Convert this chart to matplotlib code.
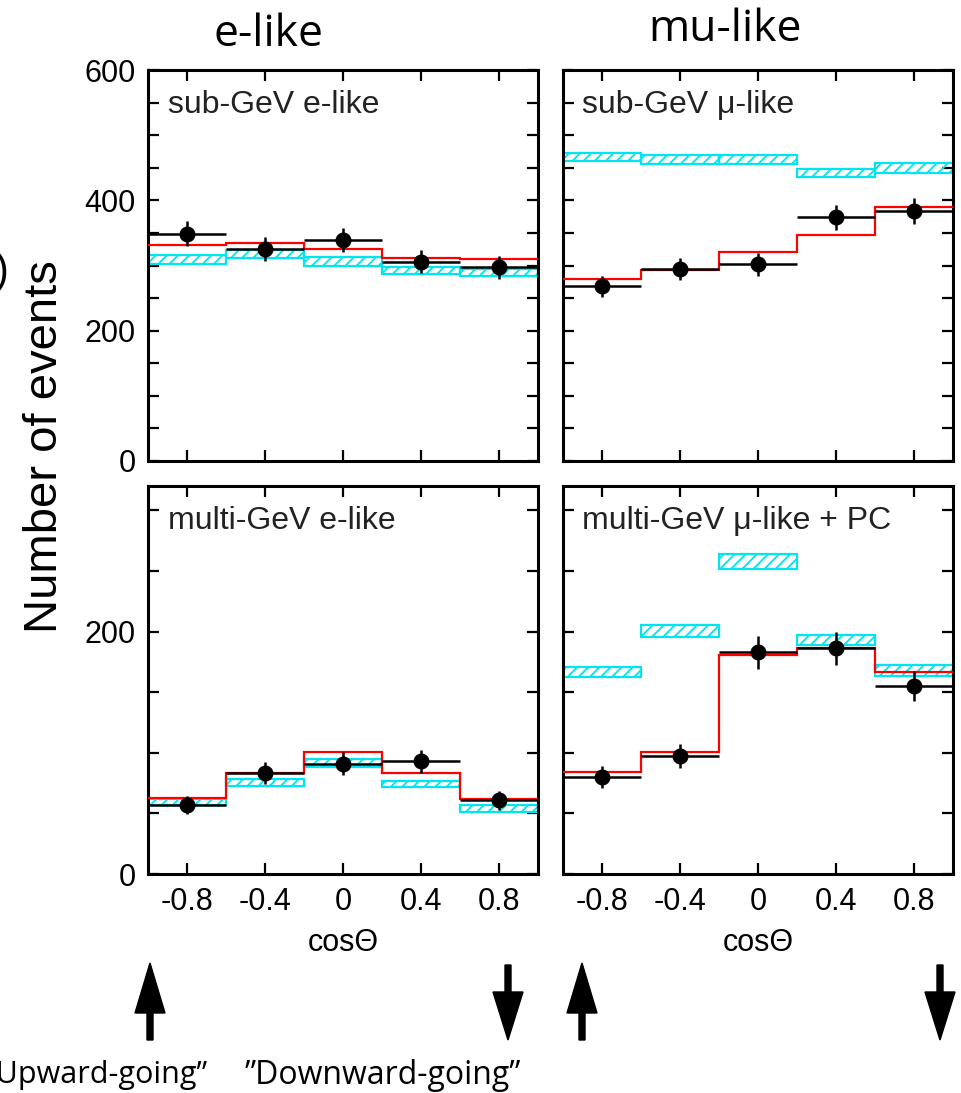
import numpy as np
import matplotlib
matplotlib.use("Agg")
from matplotlib import pyplot as plt

# bin edges / centres in cos(theta)
edges = [-1.0, -0.6, -0.2, 0.2, 0.6, 1.0]
centers = [-0.8, -0.4, 0.0, 0.4, 0.8]

# sub-GeV e-like
data_sub_e = [349, 325, 339, 306, 297]
osc_sub_e = [331, 335, 325, 312, 310]
noosc_sub_e = [309.5, 317.5, 306.8, 292.5, 289.5]
noosc_sub_e_err = [6.5, 6.5, 6.8, 5.5, 5.5]

# sub-GeV mu-like
data_sub_mu = [268, 295, 302, 374, 384]
osc_sub_mu = [279, 293, 320, 347, 390]
noosc_sub_mu = [467, 462.5, 462.5, 442, 450]
noosc_sub_mu_err = [6, 7.5, 7.5, 6, 8]

# multi-GeV e-like
data_multi_e = [57, 83, 91, 93, 61]
osc_multi_e = [63, 83, 101, 83, 62]
noosc_multi_e = [59.5, 75.3, 91.5, 74.3, 54.3]
noosc_multi_e_err = [2.5, 2.7, 3.3, 2.7, 2.8]

# multi-GeV mu-like + PC
data_multi_mu = [80, 97, 183, 186, 155]
osc_multi_mu = [84, 101, 181, 186, 167]
noosc_multi_mu = [166.6, 200.5, 257.7, 193, 167.7]
noosc_multi_mu_err = [4, 5, 6, 4, 4.7]

W, H = 961, 1093
plt.rcParams['font.family'] = ['Liberation Sans', 'DejaVu Sans']
plt.rcParams['hatch.linewidth'] = 1.3
plt.rcParams['hatch.color'] = '#00e5ee'

fig = plt.figure(figsize=(W / 100, H / 100), dpi=100)

def px_axes(left, top, right, bottom):
    return fig.add_axes([left / W, (H - bottom) / H, (right - left) / W, (bottom - top) / H])

def panel(ax, data, osc, noosc, noosc_err, label, ymax, ylabels, xlabels, yl):
    cyan = '#00e5ee'
    widths = np.diff(edges)
    ax.bar(centers, 2 * np.array(noosc_err), width=widths,
           bottom=np.array(noosc) - np.array(noosc_err),
           facecolor='none', edgecolor=cyan, hatch='///', linewidth=1.6, zorder=2)
    ax.stairs(osc, edges, baseline=None, color='#ff0000', linewidth=1.6, zorder=3)
    ax.errorbar(centers, data, xerr=0.2, yerr=np.sqrt(data), fmt='o', color='black',
                markersize=10.5, elinewidth=1.8, capsize=0, zorder=4)
    ax.set_xlim(-1, 1)
    ax.set_ylim(0, ymax)
    ax.set_xticks([-0.8, -0.4, 0, 0.4, 0.8])
    ax.set_yticks(yl)
    ax.set_yticks(np.arange(0, ymax + 1, 50), minor=True)
    ax.tick_params(which='both', direction='in', top=True, right=True,
                   length=8, width=1.6, labelsize=22, pad=9)
    if xlabels:
        ax.set_xticklabels(['-0.8', '-0.4', '0', '0.4', '0.8'])
        ax.set_xlabel('cosΘ', fontsize=22, labelpad=8)
    else:
        ax.set_xticklabels([])
    if ylabels:
        ax.set_yticklabels([str(v) for v in yl])
    else:
        ax.set_yticklabels([])
    for s in ax.spines.values():
        s.set_linewidth(2.2)
    ax.text(0.05, 0.91, label, transform=ax.transAxes, fontsize=23,
            ha='left', va='center', color='#222222')

ax1 = px_axes(148, 70, 538, 461)
panel(ax1, data_sub_e, osc_sub_e, noosc_sub_e, noosc_sub_e_err,
      'sub-GeV e-like', 600, True, False, [0, 200, 400, 600])
ax2 = px_axes(563, 70, 953, 461)
panel(ax2, data_sub_mu, osc_sub_mu, noosc_sub_mu, noosc_sub_mu_err,
      'sub-GeV μ-like', 600, False, False, [0, 200, 400, 600])
ax3 = px_axes(148, 486, 538, 874)
panel(ax3, data_multi_e, osc_multi_e, noosc_multi_e, noosc_multi_e_err,
      'multi-GeV e-like', 320, True, True, [0, 200])
ax4 = px_axes(563, 486, 953, 874)
panel(ax4, data_multi_mu, osc_multi_mu, noosc_multi_mu, noosc_multi_mu_err,
      'multi-GeV μ-like + PC', 320, False, True, [0, 200])

# headers and outer labels
fig.text(268 / W, 1 - 35 / H, 'e-like', fontsize=32, ha='center', va='center',
         family=['Open Sans', 'DejaVu Sans'])
fig.text(725 / W, 1 - 30 / H, 'mu-like', fontsize=32, ha='center', va='center',
         family=['Open Sans', 'DejaVu Sans'])
fig.text(45 / W, 1 - 447 / H, 'Number of events', fontsize=34, rotation=90,
         ha='center', va='center')
fig.text(9 / W, 1 - 272 / H, ')', fontsize=30, ha='right', va='center')

# direction arrows in pixel space
over = fig.add_axes([0, 0, 1, 1])
over.set_xlim(0, W)
over.set_ylim(H, 0)
over.axis('off')
for x in [150, 582]:
    over.arrow(x, 1040, 0, -77, width=6, head_width=30, head_length=50,
               length_includes_head=True, color='black')
for x in [508, 940]:
    over.arrow(x, 965, 0, 75, width=6, head_width=30, head_length=48,
               length_includes_head=True, color='black')

fig.text(-14 / W, 1 - 1075 / H, '”Upward-going”', fontsize=22, ha='left', va='center',
         family=['Open Sans', 'DejaVu Sans'])
fig.text(245 / W, 1 - 1075 / H, '”Downward-going”', fontsize=23, ha='left', va='center',
         family=['Open Sans', 'DejaVu Sans'])

fig.savefig('out.png', dpi=100)
